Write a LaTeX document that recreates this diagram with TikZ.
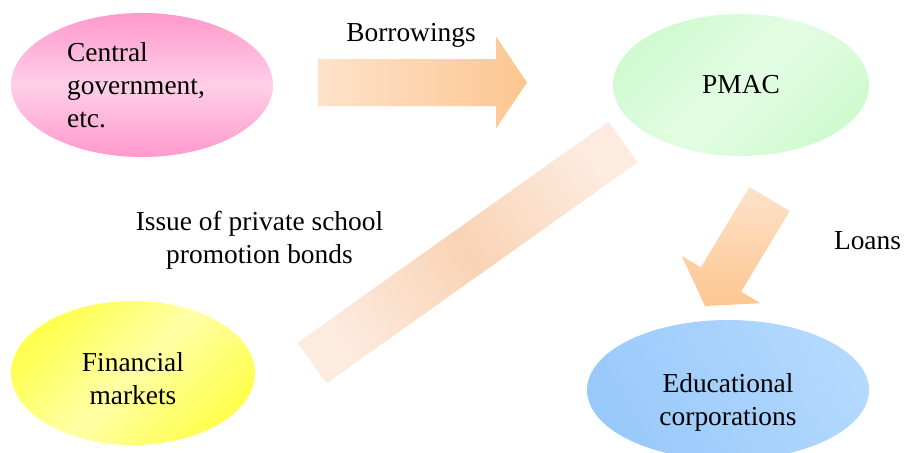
\documentclass[tikz,border=0pt]{standalone}
\usepackage{fontspec}
\setmainfont{Liberation Serif}
\usepackage{tikz}
\usetikzlibrary{shapes.geometric,calc}

\definecolor{govpink}{HTML}{FF99CC}
\definecolor{govlight}{HTML}{FFCFE7}
\definecolor{pmacgreen}{HTML}{D0FAD0}
\definecolor{pmaclight}{HTML}{E3FDE3}
\definecolor{finyellow}{HTML}{FFFF4D}
\definecolor{finlight}{HTML}{FFFFA6}
\definecolor{edublue}{HTML}{99C9FA}
\definecolor{edulight}{HTML}{B3D9FF}
\definecolor{peach}{HTML}{FDC690}
\definecolor{peachlight}{HTML}{FDE2CA}
\definecolor{bandend}{HTML}{FDEBDF}
\definecolor{bandmid}{HTML}{F9D3B5}

% block arrow: [shading] {start} {tip}
\newcommand{\flowarrow}[3][]{%
  \coordinate (hb) at ($(#3)!0.31cm!(#2)$);
  \shade[#1] ($(#2)!0.235cm!90:(#3)$) -- ($(hb)!0.235cm!-90:(#2)$)
     -- ($(hb)!0.46cm!-90:(#2)$) -- (#3) -- ($(hb)!0.46cm!90:(#2)$)
     -- ($(hb)!0.235cm!90:(#2)$) -- ($(#2)!0.235cm!-90:(#3)$) -- cycle;}

\begin{document}
\begin{tikzpicture}[font=\fontsize{7.8}{9.4}\selectfont,
        party/.style={ellipse, inner sep=0pt, align=center},
        tag/.style={align=center}]

\useasboundingbox (0,0) rectangle (9.04,4.52);

% bond issue band
\coordinate (bandA) at (3.12,0.89);
\coordinate (bandB) at (6.23,3.10);
\shade[left color=bandend, right color=bandend,
       middle color=bandmid, shading angle=125]
   ($(bandA)!0.25cm!90:(bandB)$) -- ($(bandB)!0.25cm!-90:(bandA)$)
   -- ($(bandB)!0.25cm!90:(bandA)$) -- ($(bandA)!0.25cm!-90:(bandB)$) -- cycle;

\node[party, minimum width=2.62cm, minimum height=1.44cm,
      top color=govpink, bottom color=govpink,
      middle color=govlight] (gov) at (1.42,3.67) {};
\node[tag, align=left] (govname) at ([xshift=-0.06cm]gov.center)
      {Central\\government,\\etc.};
\node[party, minimum width=2.56cm, minimum height=1.42cm,
      left color=pmacgreen, right color=pmacgreen,
      middle color=pmaclight, shading angle=45] (pmac) at (7.41,3.67) {PMAC};
\node[party, minimum width=2.44cm, minimum height=1.44cm,
      left color=finyellow, right color=finyellow,
      middle color=finlight, shading angle=45] (fin) at (1.33,0.79) {};
\node[tag] (finname) at ([yshift=-0.06cm]fin.center) {Financial\\markets};
\node[party, minimum width=2.82cm, minimum height=1.40cm,
      left color=edublue, right color=edulight,
      shading angle=120] (edu) at (7.28,0.62) {};
\node[tag] (eduname) at ([yshift=-0.12cm]edu.center) {Educational\\corporations};

\coordinate (borA) at (3.18,3.695);
\coordinate (borB) at (5.27,3.695);
\flowarrow[left color=peachlight, right color=peach]{borA}{borB}

\coordinate (loanA) at (7.695,2.53);
\coordinate (loanB) at (7.05,1.46);
\flowarrow[top color=peachlight, bottom color=peach]{loanA}{loanB}

\node[tag] (borrow) at (4.11,4.17) {Borrowings};
\node[tag] (issue) at (2.595,2.12) {Issue of private school\\promotion bonds};
\node[tag] (loans) at (8.675,2.11) {Loans};

\end{tikzpicture}
\end{document}
